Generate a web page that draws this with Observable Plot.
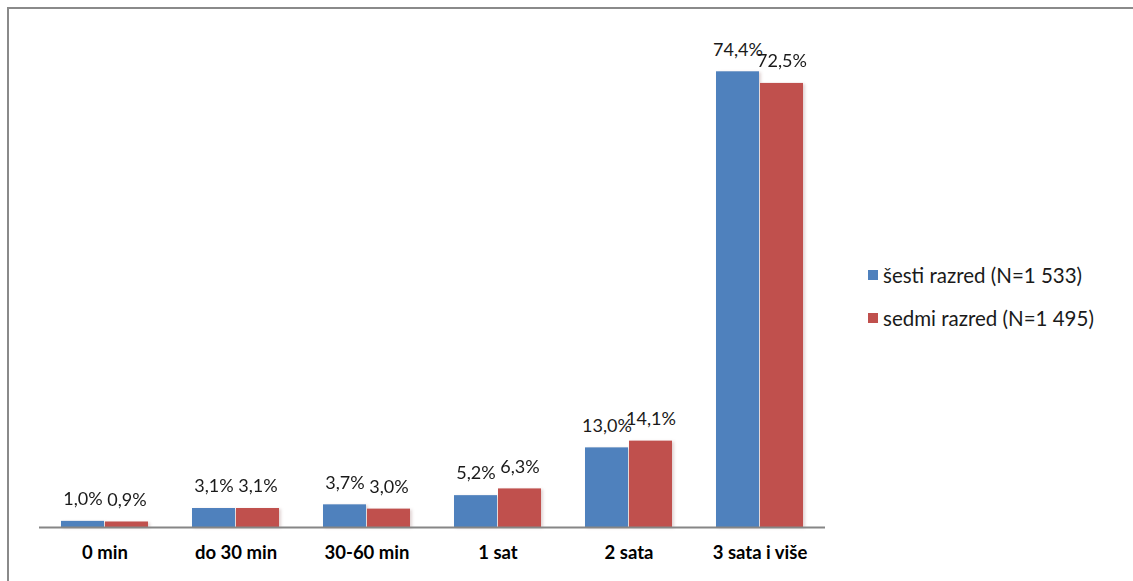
<!DOCTYPE html>
<html>
<head>
<meta charset="utf-8">
<script src="https://cdn.jsdelivr.net/npm/d3@7"></script>
<script src="https://cdn.jsdelivr.net/npm/@observablehq/plot@0.6"></script>
<style>
  html, body { margin: 0; padding: 0; background: #fff; }
  body { width: 1133px; height: 581px; position: relative; overflow: hidden; font-family: Lato, "Open Sans", sans-serif; }
  #frame { position: absolute; left: 7px; top: 7px; width: 1140px; height: 590px;
           border-top: 2px solid #8a8a8a; border-left: 2px solid #8a8a8a; box-sizing: border-box; }
  #chart { position: absolute; left: 0; top: 0; }
  #chart g[aria-label^="fx-axis"] text { font-weight: bold; font-size: 18.5px; }
  #chart g[aria-label="bar"] { filter: drop-shadow(2px 1px 1.5px rgba(120, 60, 60, 0.22)); }
  #legend { position: absolute; left: 868px; top: 261px; font-size: 20.5px; color: #1a1a1a; }
  #legend .item { display: flex; align-items: center; height: 28px; margin-bottom: 15px; }
  #legend .sw { width: 10px; height: 10px; margin-right: 5px; }
</style>
</head>
<body>
<div id="frame"></div>
<div id="chart"></div>
<div id="legend"></div>
<script>
// Time spent per day — share of pupils, by grade
const categories = ["0 min", "do 30 min", "30-60 min", "1 sat", "2 sata", "3 sata i više"];
const seriesNames = ["šesti razred (N=1 533)", "sedmi razred (N=1 495)"];
const sestiRazred = [1.0, 3.1, 3.7, 5.2, 13.0, 74.4];
const sedmiRazred = [0.9, 3.1, 3.0, 6.3, 14.1, 72.5];
const seriesColors = ["#4F81BD", "#C0504D"];

const rows = categories.flatMap((c, i) => [
  {category: c, series: seriesNames[0], value: sestiRazred[i]},
  {category: c, series: seriesNames[1], value: sedmiRazred[i]}
]);

const fmt = v => v.toFixed(1).replace(".", ",") + "%";

const chart = Plot.plot({
  width: 840,
  height: 581,
  marginLeft: 37,
  marginRight: 14,
  marginTop: 37,
  marginBottom: 54,
  style: {fontFamily: "Lato, 'Open Sans', sans-serif", fontSize: "16px", color: "#000", background: "transparent"},
  facet: {data: rows, x: "category"},
  fx: {domain: categories, padding: 0, label: null, tickSize: 0, tickPadding: 18},
  x: {domain: seriesNames, axis: null, paddingInner: 0.034, paddingOuter: 0.478},
  y: {domain: [0, 80], axis: null},
  color: {domain: seriesNames, range: seriesColors},
  marks: [
    Plot.barY(rows, {x: "series", y: "value", fill: "series"}),
    Plot.ruleY([0], {stroke: "#868686", strokeWidth: 2}),
    Plot.text(rows, {x: "series", y: "value", text: d => fmt(d.value), dy: -22,
                     lineAnchor: "middle", fontSize: 18, fill: "#1a1a1a"})
  ]
});
document.getElementById("chart").appendChild(chart);

// Legend to the right of the plot
const legend = d3.select("#legend");
seriesNames.forEach((name, i) => {
  const item = legend.append("div").attr("class", "item");
  item.append("div").attr("class", "sw").style("background", seriesColors[i]);
  item.append("span").text(name);
});
</script>
</body>
</html>
